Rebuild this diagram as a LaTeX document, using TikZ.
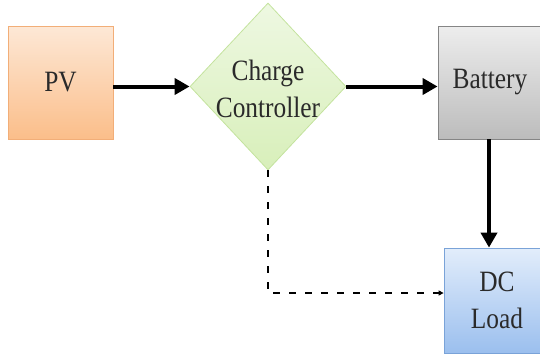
\documentclass[tikz,border=0pt]{standalone}
\usepackage{fontspec}
\setmainfont{Liberation Serif}
\newfontfamily\lblfont{Liberation Serif}[FakeStretch=0.86]
\usetikzlibrary{shapes.geometric,arrows.meta}
\definecolor{pvtop}{HTML}{FDE8D6}
\definecolor{pvbot}{HTML}{FBBE8A}
\definecolor{pvline}{HTML}{F2AE78}
\definecolor{cctop}{HTML}{EEF8E2}
\definecolor{ccbot}{HTML}{D8EFBA}
\definecolor{ccline}{HTML}{C4E39E}
\definecolor{battop}{HTML}{EDEDED}
\definecolor{batbot}{HTML}{BCBCBC}
\definecolor{batline}{HTML}{858585}
\definecolor{dctop}{HTML}{E2EDFB}
\definecolor{dcbot}{HTML}{9BBFEE}
\definecolor{dcline}{HTML}{7AA3D8}
\definecolor{txt}{HTML}{2A2A2A}
\tikzset{
  blockbox/.style={rectangle, inner sep=0pt, line width=0.8pt},
  lbl/.style={align=center, text=txt, font=\lblfont\fontsize{29.5}{37}\selectfont, inner sep=0pt},
  flow/.style={line width=4pt, -{Triangle[length=15pt,width=16pt]}},
  ctrl/.style={line width=1.4pt, dash pattern=on 7pt off 9pt, -{Triangle[length=5pt,width=5pt]}}
}
\begin{document}
\begin{tikzpicture}[x=1pt,y=-1pt]
\useasboundingbox (0,0) rectangle (540,356);
\node[blockbox, draw=pvline, top color=pvtop, bottom color=pvbot,
      minimum width=105pt, minimum height=113pt] (pv) at (60.5,82.5) {};
\node[lbl] (pvtext) at (pv) {PV};
\node[diamond, inner sep=0pt, line width=0.8pt, draw=ccline, top color=cctop, bottom color=ccbot,
      minimum width=156pt, minimum height=167pt] (cc) at (268,86.5) {};
\node[lbl] (cctext) at (268,88.5) {Charge\\Controller};
\node[blockbox, draw=batline, top color=battop, bottom color=batbot,
      minimum width=104pt, minimum height=113pt] (bat) at (490,82.5) {};
\node[lbl] (battext) at (bat) {Battery};
\node[blockbox, draw=dcline, top color=dctop, bottom color=dcbot,
      minimum width=106pt, minimum height=105pt] (dc) at (497,300.5) {};
\node[lbl] (dctext) at (dc) {DC\\Load};
\coordinate (dcin) at ([yshift=7.5pt]dc.west);
\coordinate (batout) at ([xshift=-1pt]bat.south);
\draw[flow] (pv.east |- cc) -- (cc.west);
\draw[flow] (cc.east) -- (cc.east -| bat.west);
\draw[flow] (batout) -- (batout |- dc.north);
\draw[ctrl] (cc.south) |- (dcin);
\end{tikzpicture}
\end{document}
